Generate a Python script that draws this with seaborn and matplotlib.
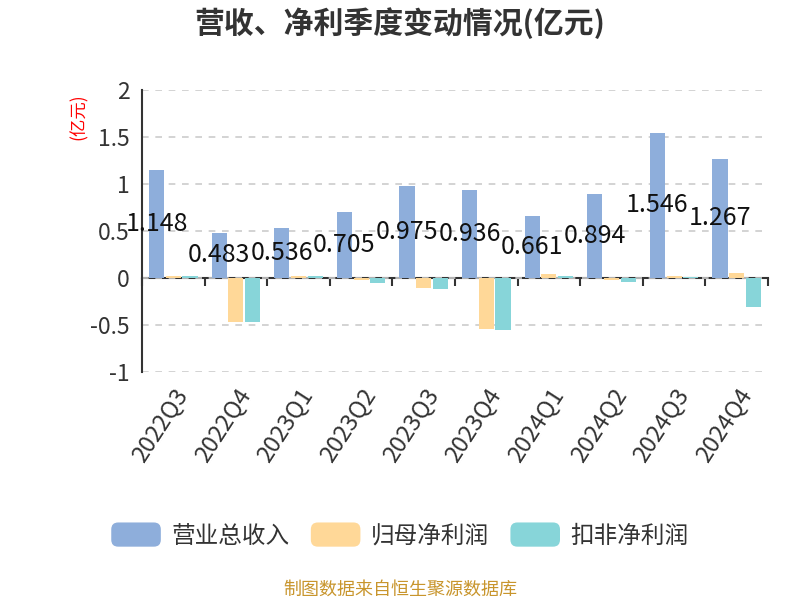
import matplotlib
matplotlib.use("Agg")
import matplotlib.pyplot as plt
import seaborn as sns
import pandas as pd
from matplotlib.patches import FancyBboxPatch
from matplotlib.legend_handler import HandlerPatch
from matplotlib.ticker import FuncFormatter

categories = ['2022Q3', '2022Q4', '2023Q1', '2023Q2', '2023Q3',
              '2023Q4', '2024Q1', '2024Q2', '2024Q3', '2024Q4']
revenue = [1.148, 0.483, 0.536, 0.705, 0.975, 0.936, 0.661, 0.894, 1.546, 1.267]
net_profit = [0.02, -0.47, 0.02, -0.02, -0.11, -0.54, 0.04, -0.02, 0.02, 0.05]
deducted_profit = [0.02, -0.465, 0.02, -0.05, -0.12, -0.55, 0.02, -0.04, 0.01, -0.31]
series_names = ['营业总收入', '归母净利润', '扣非净利润']
colors = ['#8eaedb', '#ffd898', '#87d5d9']
yticks = [-1, -0.5, 0, 0.5, 1, 1.5, 2]

sns.set_style("white")
plt.rcParams['font.family'] = ['Noto Sans CJK SC', 'DejaVu Sans']

df = pd.DataFrame({
    'quarter': categories * 3,
    'value': revenue + net_profit + deducted_profit,
    'series': [series_names[0]] * 10 + [series_names[1]] * 10 + [series_names[2]] * 10,
})

fig = plt.figure(figsize=(8, 6), dpi=100)
ax = fig.add_axes([0.1775, 0.38, 0.7825, 0.47])

sns.barplot(data=df, x='quarter', y='value', hue='series', palette=colors,
            width=0.8, gap=0.1, ax=ax, legend=False, linewidth=0,
            saturation=1)

ax.set_xlim(-0.5, len(categories) - 0.5)
ax.set_ylim(-1, 2)
ax.set_yticks(yticks)
ax.yaxis.set_major_formatter(FuncFormatter(lambda v, p: f"{v:g}"))
ax.grid(axis='y', color='#cccccc', linestyle=(0, (4, 4)), linewidth=1.2)
ax.set_axisbelow(True)
for s in ['top', 'right', 'bottom']:
    ax.spines[s].set_visible(False)
ax.spines['left'].set_color('#333333')
ax.spines['left'].set_linewidth(1.5)
ax.tick_params(axis='y', which='both', direction='out', length=6, width=1.5,
               color='#333333', labelsize=16.5, labelcolor='#333333', pad=3)
ax.tick_params(axis='x', length=0, labelsize=17, labelcolor='#333333', pad=9)
plt.setp(ax.get_xticklabels(), rotation=57, ha='right', rotation_mode='anchor')
ax.set_xlabel('')
ax.set_ylabel('')

# zero axis line with boundary ticks
sec = ax.secondary_xaxis(0, transform=ax.transData)
sec.set_xticks([i - 0.5 for i in range(len(categories) + 1)])
sec.set_xticklabels([])
sec.spines['bottom'].set_color('#333333')
sec.spines['bottom'].set_linewidth(1.5)
sec.tick_params(axis='x', direction='out', length=6, width=1.5, color='#333333')

# data labels for revenue
ax.bar_label(ax.containers[0], labels=[f"{v:.3f}" for v in revenue],
             label_type='center', fontsize=18, color='#111111')

# y-axis unit
fig.text(0.098, 0.805, '(亿元)', rotation=90, color='red', fontsize=12.5,
         ha='center', va='center')

fig.suptitle('营收、净利季度变动情况(亿元)', x=0.5, y=0.962, fontsize=21.5,
             fontweight='bold', color='#333333', va='center')


class RoundHandler(HandlerPatch):
    def create_artists(self, legend, orig_handle, xdescent, ydescent, width,
                       height, fontsize, trans):
        p = FancyBboxPatch((-xdescent, -ydescent), width, height,
                           boxstyle="round,pad=0,rounding_size=5",
                           facecolor=orig_handle.get_facecolor(),
                           edgecolor='none', transform=trans)
        return [p]


handles = [plt.Rectangle((0, 0), 1, 1, facecolor=c) for c in colors]
fig.legend(handles, series_names, loc='center', bbox_to_anchor=(0.5, 1 - 535 / 600),
           ncol=3, frameon=False, fontsize=17, handlelength=2.1, handleheight=1.2,
           handletextpad=0.45, columnspacing=0.9, labelcolor='#333333',
           handler_map={plt.Rectangle: RoundHandler()})

fig.text(0.5, 1 - 590 / 600, '制图数据来自恒生聚源数据库', color='#c8952c',
         fontsize=13, ha='center', va='center')

fig.savefig('out.png', dpi=100)
